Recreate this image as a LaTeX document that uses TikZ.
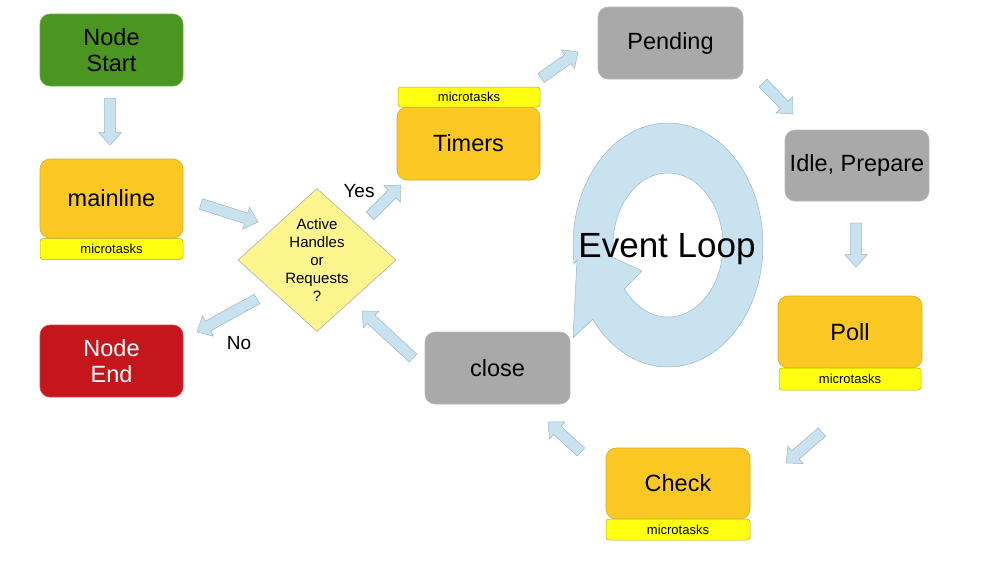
\documentclass[tikz,border=0pt]{standalone}
\usepackage{fontspec}
\setmainfont{Liberation Sans}
\usetikzlibrary{calc,shapes.geometric}
\definecolor{startgreen}{HTML}{4A9620}
\definecolor{boxorange}{HTML}{FCC924}
\definecolor{bargold}{HTML}{FFFF10}
\definecolor{endred}{HTML}{C4161C}
\definecolor{boxgray}{HTML}{A9A9A9}
\definecolor{diamyellow}{HTML}{FDF68F}
\definecolor{arrowblue}{HTML}{C9E2F0}
\definecolor{arrowedge}{HTML}{9CB6C6}
\tikzset{
  box/.style={rectangle, rounded corners=10pt, minimum width=143pt, minimum height=72pt,
    inner sep=0pt, align=center, line width=0.6pt, font=\fontsize{23.5}{26.5}\selectfont},
  greenbox/.style={box, fill=startgreen, draw=startgreen!80!white},
  orangebox/.style={box, fill=boxorange, draw=boxorange!85!black},
  graybox/.style={box, fill=boxgray, draw=boxgray!85!white},
  redbox/.style={box, fill=endred, draw=endred!80!white, text=white},
  mtbar/.style={rectangle, rounded corners=3pt, minimum width=143pt, minimum height=21pt,
    inner sep=0pt, fill=bargold, draw=bargold!70!black, line width=0.5pt,
    font=\fontsize{13}{15}\selectfont},
  decision/.style={diamond, minimum width=158pt, minimum height=143pt, inner sep=0pt,
    fill=diamyellow, draw=black!35, line width=0.5pt},
  qtext/.style={align=center, font=\fontsize{15}{18}\selectfont},
  lbl/.style={font=\fontsize{19}{22}\selectfont},
  blockarrow/.style={fill=arrowblue, draw=arrowedge, line width=0.5pt, line join=miter},
  ring/.style={fill=arrowblue, draw=arrowedge, line width=0.5pt, even odd rule}
}
\newcommand\blockarr[2]{%
  \coordinate (hb) at ($(#2)!12.5pt!(#1)$);
  \draw[blockarrow] ($(#1)!5.5pt!90:(#2)$) -- ($(hb)!5.5pt!90:(#2)$) -- ($(hb)!11.5pt!90:(#2)$)
    -- (#2) -- ($(hb)!11.5pt!-90:(#2)$) -- ($(hb)!5.5pt!-90:(#2)$) -- ($(#1)!5.5pt!-90:(#2)$) -- cycle;}
\begin{document}
\begin{tikzpicture}[x=1pt,y=-1pt]
\useasboundingbox (0,0) rectangle (982,587);
% event loop ring: outer outline, then the hole
\draw[ring] (573,338) -- (577,260)
  -- plot[domain=-189:142.5,samples=120] ({668+95*cos(\x)},{245+122*sin(\x)}) -- cycle
  (624,289) -- (642,271) -- (612,257)
  -- plot[domain=-188:141.5,samples=120] ({668+55*cos(\x)},{245+72*sin(\x)}) -- cycle;
\node[anchor=base, font=\fontsize{35}{40}\selectfont] (evl) at (667,257) {Event Loop};
% boxes
\node[greenbox] (start) at (111.5,50) {Node\\Start};
\node[orangebox, minimum height=79pt] (mainline) at (111.5,198.5) {mainline};
\node[mtbar] (mainmt) at (111.5,249) {microtasks};
\node[redbox] (endn) at (111.5,361) {Node\\End};
\node[decision] (q) at (317,260) {};
\node[qtext] (qt) at (317,260) {Active\\Handles\\or\\Requests\\?};
\node[orangebox, minimum height=73pt] (timers) at (468.5,143.5) {Timers};
\node[mtbar, minimum width=142pt, minimum height=20pt] (timersmt) at (469,97) {microtasks};
\node[graybox, minimum width=145pt] (pending) at (670.5,43) {Pending};
\node[graybox, minimum width=144pt, minimum height=71pt] (idle) at (857,165.5) {Idle, Prepare};
\node[orangebox, minimum width=144pt] (poll) at (850,332) {Poll};
\node[mtbar, minimum width=142pt, minimum height=22pt] (pollmt) at (850,379) {microtasks};
\node[orangebox, minimum width=144pt, minimum height=71pt] (check) at (678,483.5) {Check};
\node[mtbar, minimum width=144pt] (checkmt) at (678,529.5) {microtasks};
\node[graybox, minimum width=145pt] (close) at (497.5,368) {close};
% labels
\node[lbl] (yes) at (359,191) {Yes};
\node[lbl] (no) at (239,343) {No};
% arrow end points
\coordinate (a1) at (110,98);   \coordinate (b1) at (110,145);
\coordinate (a2) at (201,204);  \coordinate (b2) at (258,222);
\coordinate (a3) at (257,299);  \coordinate (b3) at (197,332);
\coordinate (a4) at (370,216);  \coordinate (b4) at (401,185);
\coordinate (a5) at (541,78);   \coordinate (b5) at (578,52);
\coordinate (a6) at (763,83);   \coordinate (b6) at (793,114);
\coordinate (a7) at (856,223);  \coordinate (b7) at (856,267);
\coordinate (a8) at (822,432);  \coordinate (b8) at (786,463);
\coordinate (a9) at (581,452);  \coordinate (b9) at (548,422);
\coordinate (a10) at (413,358); \coordinate (b10) at (362,311);
\blockarr{a1}{b1}
\blockarr{a2}{b2}
\blockarr{a3}{b3}
\blockarr{a4}{b4}
\blockarr{a5}{b5}
\blockarr{a6}{b6}
\blockarr{a7}{b7}
\blockarr{a8}{b8}
\blockarr{a9}{b9}
\blockarr{a10}{b10}
\end{tikzpicture}
\end{document}
